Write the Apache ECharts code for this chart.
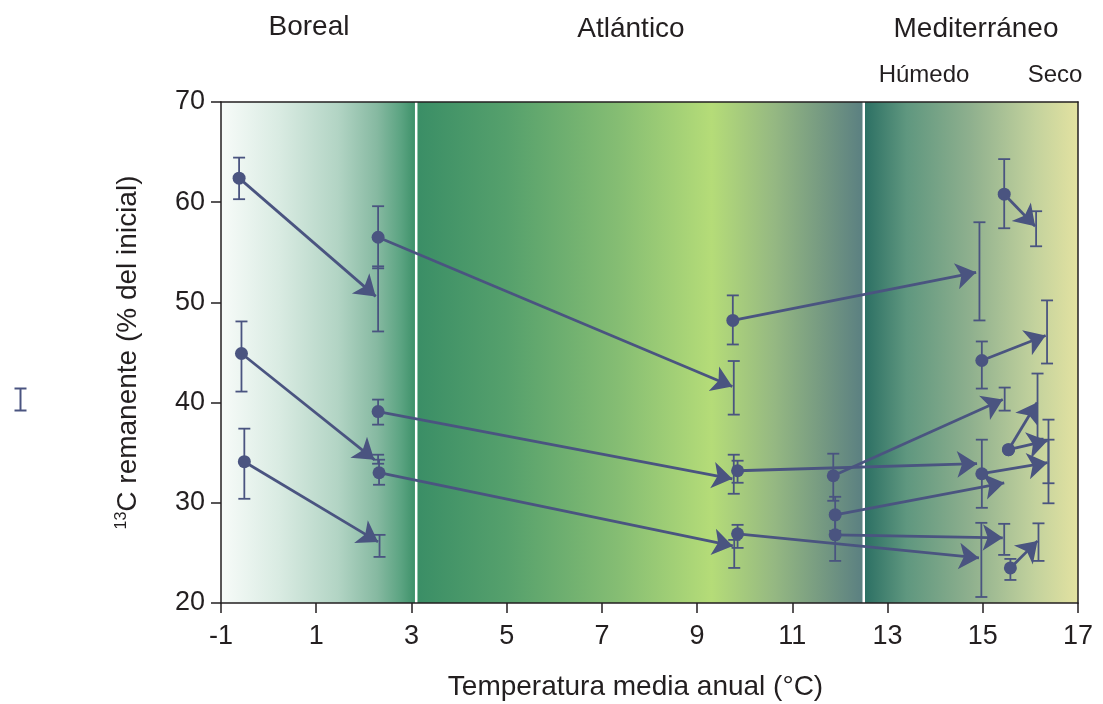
<!DOCTYPE html>
<html>
<head>
<meta charset="utf-8">
<script src="https://cdn.jsdelivr.net/npm/echarts@6/dist/echarts.min.js"></script>
<style>
	html, body {margin: 0;padding: 0;background: #fff;}
	#chart {width: 1103px;height: 704px;}
</style>
</head>
<body>
<div id="chart"></div>
<script>
	// zonas climaticas (limites en °C)
	var zoneEdges = [-1, 3.1, 12.5, 17];
	var dividers = [3.1, 12.5];

	// flechas: inicio -> final
	var arrowX0 = [-0.62, 2.3, 9.75, -0.57, 2.32, -0.51, 2.3, 9.85, 11.86, 11.9, 11.9, 9.85, 15.58, 14.98, 15.54, 15.54, 14.98, 15.45];
	var arrowY0 = [62.4, 56.5, 48.2, 44.9, 33.0, 34.1, 39.1, 33.2, 32.7, 28.8, 26.8, 26.9, 23.5, 44.2, 35.3, 35.3, 32.9, 60.8];
	var arrowX1 = [2.25, 9.74, 14.86, 2.22, 9.75, 2.3, 9.74, 14.88, 15.42, 15.45, 15.42, 14.92, 16.15, 16.32, 16.14, 16.36, 16.36, 16.1];
	var arrowY1 = [50.6, 41.6, 53.0, 34.3, 25.7, 26.1, 32.4, 33.9, 40.3, 32.0, 26.5, 24.5, 26.2, 46.7, 40.0, 36.2, 34.0, 57.6];

	// barras de error
	var barX = [-0.62, 2.3, 2.3, 9.77, 9.75, 14.93, -0.57, 2.3, 2.32, 9.78, 9.85, -0.51, 2.33, 2.3, 9.77, 9.85, 11.86, 15.46, 11.9, 11.9, 15.45, 14.97, 15.58, 16.17, 14.98, 16.35, 16.15, 16.38, 14.98, 16.38, 15.45, 16.12];
	var barLow = [60.3, 47.1, 53.4, 38.8, 45.8, 48.2, 41.1, 33.9, 31.8, 23.5, 25.5, 30.4, 24.6, 37.8, 30.9, 32.0, 30.2, 39.2, 27.2, 24.2, 24.8, 20.6, 22.3, 24.2, 41.4, 43.9, 36.4, 31.95, 29.5, 29.95, 57.4, 55.6];
	var barHigh = [64.45, 53.6, 59.6, 44.15, 50.7, 58.0, 48.1, 34.8, 34.3, 26.3, 27.8, 37.4, 26.8, 40.3, 34.8, 34.2, 34.9, 41.5, 30.6, 29.0, 27.9, 28.0, 24.4, 27.95, 46.1, 50.2, 42.9, 38.3, 36.3, 36.3, 64.3, 59.1];

	var xTicks = {min: -1, max: 17, step: 2};
	var yTicks = {min: 20, max: 70, step: 10};

	var ink = '#4a5480';
	var zoneStops = [
		[[0, '#f7fbf9'], [0.3, '#d9ebe2'], [0.6, '#b2d4c4'], [0.8, '#86b9a1'], [0.92, '#5ca482'], [1, '#3c9068']],
		[[0, '#3a8e66'], [0.2, '#55a06c'], [0.45, '#85bd73'], [0.66, '#b5dc78'], [0.8, '#95b882'], [1, '#5a7f81']],
		[[0, '#2b6f63'], [0.2, '#5f977f'], [0.5, '#8fb08e'], [0.8, '#c3d29d'], [1, '#e3e2a1']]
	];

	var myChart = echarts.init(document.getElementById('chart'));
	var font = "'Liberation Sans', Arial, sans-serif";
	var head = function(txt, x, y, size) {
		return {text: txt, left: x, top: y, textAlign: 'center', textStyle: {fontSize: size, fontWeight: 'normal', color: '#231f20', fontFamily: font}};
	};

	var zoneData = [];
	for (var i = 0; i < zoneEdges.length - 1; i++) zoneData.push([zoneEdges[i], zoneEdges[i + 1], i]);
	var arrowData = arrowX0.map(function(x, i) {
		return {coords: [[x, arrowY0[i]], [arrowX1[i], arrowY1[i]]]};
	});
	var circleData = arrowX0.map(function(x, i) { return [x, arrowY0[i]]; });
	var barData = barX.map(function(x, i) { return [x, barLow[i], barHigh[i]]; });

	var option = {
		animation: false,
		textStyle: {fontFamily: font},
		title: [
			head('Boreal', 304, 8, 28),
			head('Atlántico', 626, 10, 28),
			head('Mediterráneo', 971, 10, 28),
			head('Húmedo', 919, 58, 24),
			head('Seco', 1050, 58, 24)
		],
		graphic: [{
			type: 'group', left: 12, top: 386,
			children: [
				{type: 'line', shape: {x1: 6, y1: 0, x2: 6, y2: 22}, style: {stroke: ink, lineWidth: 2}},
				{type: 'line', shape: {x1: 0, y1: 0, x2: 12, y2: 0}, style: {stroke: ink, lineWidth: 2}},
				{type: 'line', shape: {x1: 0, y1: 22, x2: 12, y2: 22}, style: {stroke: ink, lineWidth: 2}}
			]
		}],
		grid: {left: 221, right: 25, top: 102, bottom: 101, containLabel: false, outerBoundsMode: 'none'},
		xAxis: [{
			type: 'value', min: xTicks.min, max: xTicks.max, interval: xTicks.step, z: 10,
			name: 'Temperatura media anual (°C)', nameLocation: 'middle', nameGap: 70,
			nameTextStyle: {fontSize: 28, color: '#231f20', padding: [0, 28, 0, 0]},
			axisLine: {onZero: false, lineStyle: {color: '#231f20', width: 1.5}},
			axisTick: {length: 10, lineStyle: {color: '#231f20', width: 1.5}},
			axisLabel: {fontSize: 27, color: '#231f20', margin: 20},
			splitLine: {show: false}
		}, {
			type: 'value', position: 'top', min: xTicks.min, max: xTicks.max, z: 10,
			axisLine: {show: true, onZero: false, lineStyle: {color: '#231f20', width: 1.5}},
			axisTick: {show: false}, axisLabel: {show: false}, splitLine: {show: false}
		}],
		yAxis: [{
			type: 'value', min: yTicks.min, max: yTicks.max, interval: yTicks.step, z: 10,
			name: '{sup|13}C remanente (% del inicial)', nameLocation: 'middle', nameGap: 79,
			nameTextStyle: {
				fontSize: 28, color: '#231f20',
				rich: {sup: {fontSize: 16, color: '#231f20', verticalAlign: 'top', padding: [0, 0, 12, 0]}}
			},
			axisLine: {show: true, onZero: false, lineStyle: {color: '#231f20', width: 1.5}},
			axisTick: {show: true, length: 10, lineStyle: {color: '#231f20', width: 1.5}},
			axisLabel: {fontSize: 27, color: '#231f20', margin: 16},
			splitLine: {show: false}
		}, {
			type: 'value', position: 'right', min: yTicks.min, max: yTicks.max, z: 10,
			axisLine: {show: true, onZero: false, lineStyle: {color: '#231f20', width: 1.5}},
			axisTick: {show: false}, axisLabel: {show: false}, splitLine: {show: false}
		}],
		series: [
			{
				// fondos de las zonas
				type: 'custom', z: 1, silent: true, data: zoneData,
				renderItem: function(params, api) {
					var p0 = api.coord([api.value(0), yTicks.max]);
					var p1 = api.coord([api.value(1), yTicks.min]);
					var stops = zoneStops[api.value(2)].map(function(s) { return {offset: s[0], color: s[1]}; });
					return {
						type: 'rect',
						shape: {x: p0[0], y: p0[1], width: p1[0] - p0[0], height: p1[1] - p0[1]},
						style: {fill: new echarts.graphic.LinearGradient(0, 0, 1, 0, stops)}
					};
				}
			},
			{
				// lineas blancas
				type: 'custom', z: 2, silent: true, data: dividers.map(function(d) { return [d]; }),
				renderItem: function(params, api) {
					var a = api.coord([api.value(0), yTicks.max]);
					var b = api.coord([api.value(0), yTicks.min]);
					return {type: 'line', shape: {x1: a[0], y1: a[1], x2: b[0], y2: b[1]}, style: {stroke: '#ffffff', lineWidth: 2.5}};
				}
			},
			{
				type: 'custom', z: 3, data: barData,
				encode: {x: 0, y: [1, 2]},
				renderItem: function(params, api) {
					var lo = api.coord([api.value(0), api.value(1)]);
					var hi = api.coord([api.value(0), api.value(2)]);
					var w = 6;
					var st = {stroke: ink, lineWidth: 1.8};
					return {
						type: 'group',
						children: [
							{type: 'line', shape: {x1: lo[0], y1: lo[1], x2: hi[0], y2: hi[1]}, style: st},
							{type: 'line', shape: {x1: lo[0] - w, y1: lo[1], x2: lo[0] + w, y2: lo[1]}, style: st},
							{type: 'line', shape: {x1: hi[0] - w, y1: hi[1], x2: hi[0] + w, y2: hi[1]}, style: st}
						]
					};
				}
			},
			{
				type: 'lines', coordinateSystem: 'cartesian2d', z: 4,
				symbol: ['none', 'arrow'], symbolSize: [16, 20],
				lineStyle: {color: ink, width: 2.8, opacity: 1},
				data: arrowData
			},
			{
				type: 'scatter', z: 5, symbol: 'circle', symbolSize: 13,
				itemStyle: {color: ink, opacity: 1},
				data: circleData
			}
		]
	};
	myChart.setOption(option);
</script>
</body>
</html>
